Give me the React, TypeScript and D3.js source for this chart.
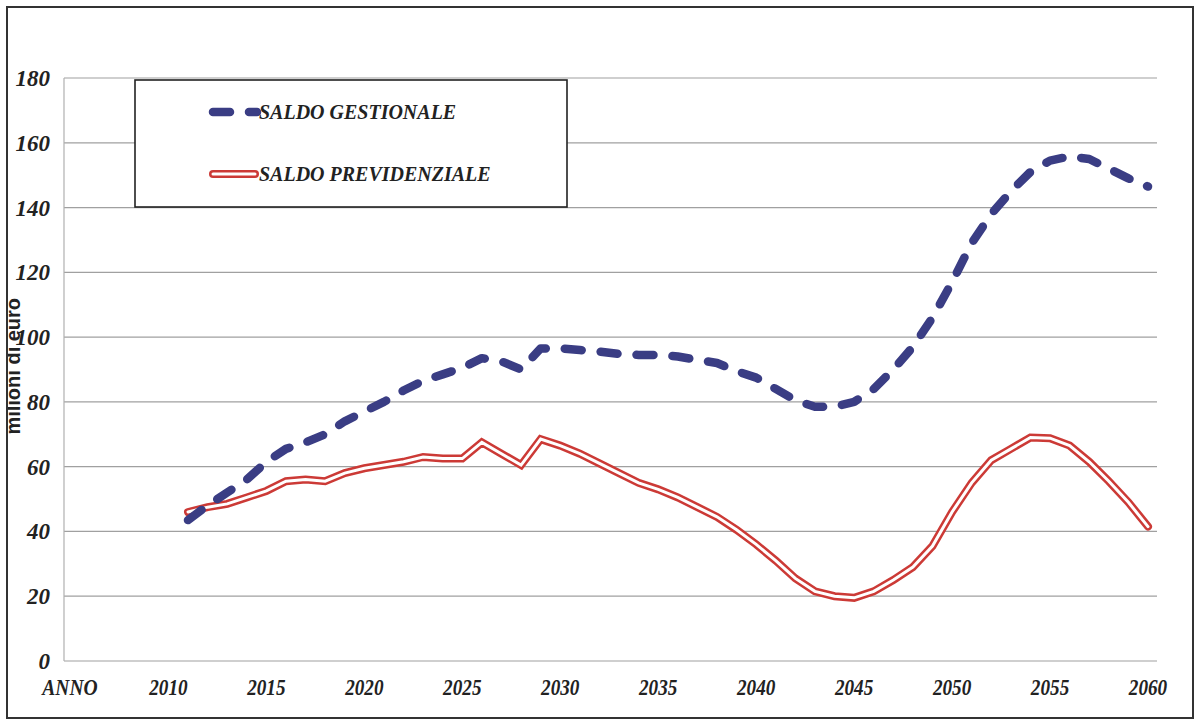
import React from "react";
import { scaleLinear, line, curveLinear, range } from "d3";

const years = range(2011, 2061);
const gestionale = [
  43.5, 48, 52, 56, 61.5, 65.5, 67.5, 70, 74, 77,
  80, 83.5, 86.5, 88.5, 90.5, 93.5, 92.5, 90, 96.5, 96.5,
  96, 95.5, 94.8, 94.5, 94.5, 94, 93, 92, 89.5, 87.5,
  84, 80.5, 78.5, 78.5, 80, 84, 90, 97, 106, 117,
  129, 138, 145, 151, 154.5, 155.8, 155, 152, 149, 146.5,
];
const previdenziale = [
  46, 47.5, 48.5, 50.5, 52.5, 55.5, 56, 55.5, 58, 59.5,
  60.5, 61.5, 63, 62.5, 62.5, 67.5, 64, 60.5, 68.5, 66.5,
  64, 61, 58, 55, 53, 50.5, 47.5, 44.5, 40.5, 36,
  31, 25.5, 21.5, 20, 19.5, 21.5, 25, 29, 35.5, 46,
  55, 62, 65.5, 69, 68.8, 66.5, 61.5, 55.5, 49, 41.5,
];
const yTicks = [0, 20, 40, 60, 80, 100, 120, 140, 160, 180];
const xTicks = [2010, 2015, 2020, 2025, 2030, 2035, 2040, 2045, 2050, 2055, 2060];
const seriesNames = ["SALDO GESTIONALE", "SALDO PREVIDENZIALE"];

const W = 1196;
const H = 724;
const plotLeft = 64;
const plotRight = 1157;

const BLUE = "#3a3d84";
const RED = "#cc3a36";
const serif = "'Liberation Serif', 'Times New Roman', serif";

export default function App() {
  const x = scaleLinear().domain([2011, 2060]).range([188, 1148]);
  const y = scaleLinear().domain([0, 180]).range([661, 78]);

  const mk = (vals: number[]) =>
    line<number>()
      .x((_, i) => x(years[i]))
      .y((d) => y(d))
      .curve(curveLinear)(vals) || "";

  const blueD = mk(gestionale);
  const redD = mk(previdenziale);

  return (
    <svg
      width={W}
      height={H}
      viewBox={`0 0 ${W} ${H}`}
      style={{ position: "absolute", left: 0, top: 0, background: "#fff" }}
    >
      <defs>
        <clipPath id="frameClip">
          <rect x={8} y={8} width={1184} height={710} />
        </clipPath>
      </defs>

      {/* gridlines */}
      {yTicks.map((t) => (
        <line
          key={t}
          x1={plotLeft}
          x2={plotRight}
          y1={y(t)}
          y2={y(t)}
          stroke="#a0a0a0"
          strokeWidth={1.2}
        />
      ))}
      <line x1={plotLeft} x2={plotLeft} y1={y(180)} y2={y(0)} stroke="#b0b0b0" strokeWidth={1.2} />

      {/* y labels */}
      {yTicks.map((t) => (
        <text
          key={t}
          x={50}
          y={y(t) + 8}
          textAnchor="end"
          fontFamily={serif}
          fontWeight="bold"
          fontStyle="italic"
          fontSize={23}
          fill="#222"
        >
          {t}
        </text>
      ))}

      {/* y title, partly hidden by the frame */}
      <g clipPath="url(#frameClip)">
        <text
          transform={`translate(20,${y(91)}) rotate(-90)`}
          textAnchor="middle"
          fontFamily="'Liberation Sans', Arial, sans-serif"
          fontWeight="bold"
          fontSize={20}
          fill="#222"
        >
          milioni di euro
        </text>
      </g>

      {/* x labels */}
      <text
        transform={`translate(70,695) scale(0.85,1)`}
        textAnchor="middle"
        fontFamily={serif}
        fontWeight="bold"
        fontStyle="italic"
        fontSize={23}
        fill="#222"
      >
        ANNO
      </text>
      {xTicks.map((t) => (
        <text
          key={t}
          transform={`translate(${x(t)},695) scale(0.8,1)`}
          textAnchor="middle"
          fontFamily={serif}
          fontWeight="bold"
          fontStyle="italic"
          fontSize={24}
          fill="#222"
        >
          {t}
        </text>
      ))}

      {/* series */}
      <path d={redD} fill="none" stroke={RED} strokeWidth={8} strokeLinejoin="miter" strokeLinecap="round" />
      <path d={redD} fill="none" stroke="#fff" strokeWidth={3} strokeLinejoin="miter" strokeLinecap="round" />
      <path
        d={blueD}
        fill="none"
        stroke={BLUE}
        strokeWidth={8.5}
        strokeDasharray="17 19"
        strokeLinecap="round"
        strokeLinejoin="round"
      />

      {/* legend */}
      <rect x={135} y={80} width={432} height={127} fill="#fff" stroke="#222" strokeWidth={1.6} />
      <line x1={213} x2={257} y1={112} y2={112} stroke={BLUE} strokeWidth={8.5} strokeDasharray="17 19" strokeLinecap="round" />
      <text
        transform="translate(259,119) scale(1,1.1)"
        fontFamily={serif}
        fontWeight="bold"
        fontStyle="italic"
        fontSize={20}
        fill="#222"
      >
        {seriesNames[0]}
      </text>
      <line x1={213} x2={255} y1={174} y2={174} stroke={RED} strokeWidth={8} strokeLinecap="round" />
      <line x1={213} x2={255} y1={174} y2={174} stroke="#fff" strokeWidth={3} strokeLinecap="round" />
      <text
        transform="translate(259,181) scale(1,1.1)"
        fontFamily={serif}
        fontWeight="bold"
        fontStyle="italic"
        fontSize={20}
        fill="#222"
      >
        {seriesNames[1]}
      </text>

      {/* outer frame */}
      <rect x={7} y={7} width={1186} height={711} fill="none" stroke="#333" strokeWidth={2} />
    </svg>
  );
}
